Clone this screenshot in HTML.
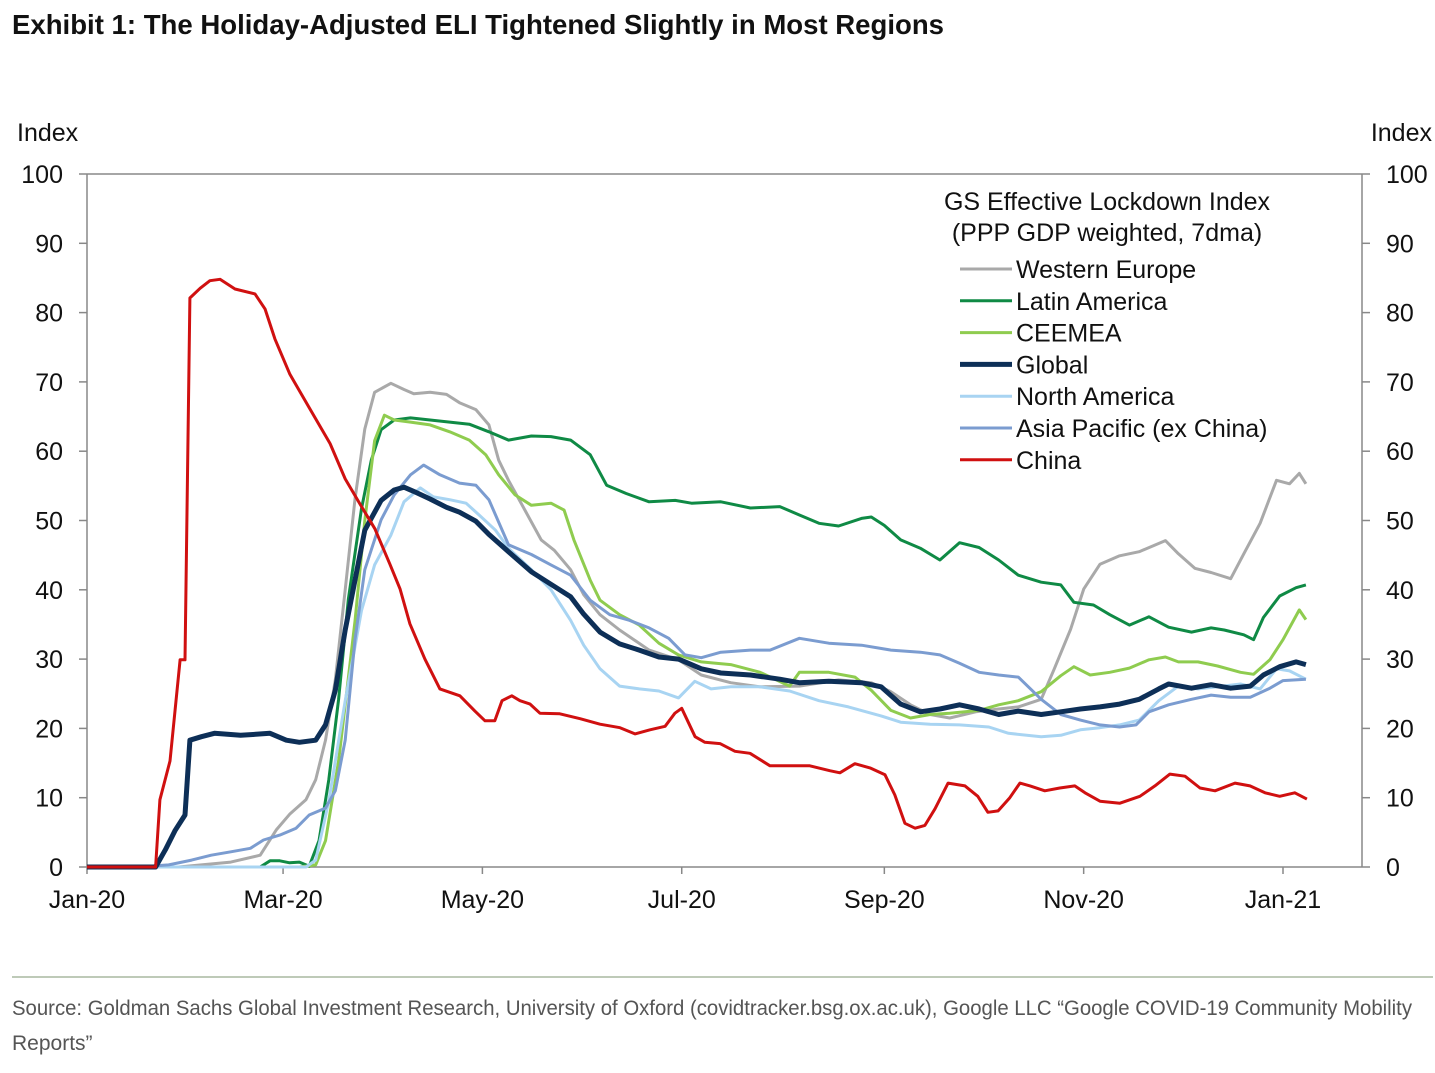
<!DOCTYPE html>
<html><head><meta charset="utf-8"><style>
body{margin:0;background:#fff;width:1435px;height:1068px;overflow:hidden;font-family:"Liberation Sans",sans-serif}
</style></head><body>
<svg id="c" width="1435" height="1068" xmlns="http://www.w3.org/2000/svg">
<text x="12" y="34" font-size="28" font-weight="bold" fill="#111" font-family="Liberation Sans Narrow,Liberation Sans,sans-serif" textLength="932" lengthAdjust="spacingAndGlyphs">Exhibit 1: The Holiday-Adjusted ELI Tightened Slightly in Most Regions</text>
<text x="17" y="141" font-size="25" fill="#111">Index</text>
<text x="1432" y="141" font-size="25" fill="#111" text-anchor="end">Index</text>
<g id="axes"></g><g id="series"></g>
<g>
<text x="1107" y="210" font-size="25" fill="#111" text-anchor="middle">GS Effective Lockdown Index</text>
<text x="1107" y="241" font-size="25" fill="#111" text-anchor="middle">(PPP GDP weighted, 7dma)</text>
<g id="leg"></g></g>
<line x1="12" y1="977" x2="1433" y2="977" stroke="#a8b8a0" stroke-width="1.5"/>
<text x="12" y="1015" font-size="21" fill="#555" font-family="Liberation Sans Narrow,Liberation Sans,sans-serif" textLength="1400" lengthAdjust="spacingAndGlyphs">Source: Goldman Sachs Global Investment Research, University of Oxford (covidtracker.bsg.ox.ac.uk), Google LLC “Google COVID-19 Community Mobility</text>
<text x="12" y="1050" font-size="21" fill="#555" font-family="Liberation Sans Narrow,Liberation Sans,sans-serif">Reports”</text>
</svg>
<script>
const yTicks=[0,10,20,30,40,50,60,70,80,90,100];
const xTickLabels=["Jan-20","Mar-20","May-20","Jul-20","Sep-20","Nov-20","Jan-21"];
const xTickDays=[0,60,121,182,244,305,366];
const weDays=[0,28,44,53,58,62,67,70,73,76,79,82,85,88,93,97,100,105,110,114,119,123,126,129,134,139,143,148,152,157,163,172,181,188,197,206,218,230,240,246,252,258,264,272,279,285,292,296,301,305,310,316,322,330,334,339,344,350,354,359,364,368,371,373];
const weVals=[0,0,0.7,1.7,5.4,7.6,9.7,12.6,18.3,27,40,53.1,63.2,68.5,69.8,68.9,68.3,68.5,68.2,67,66,63.8,58.7,55.8,51.5,47.2,45.7,42.9,39.3,36.4,34.2,31.3,29.9,27.7,26.6,26,26.1,27,26.6,25.3,23.4,22,21.5,22.4,22.8,23.1,24.2,28.6,34.3,40.1,43.7,44.9,45.5,47.1,45.2,43.1,42.5,41.6,45.2,49.6,55.8,55.3,56.8,55.3];
const laDays=[0,53,56,59,62,65,68,71,74,77,80,84,87,90,94,99,105,111,117,123,129,136,142,148,154,159,165,172,180,185,194,203,212,218,224,230,237,240,244,249,255,261,267,273,279,285,292,298,302,308,313,319,325,331,338,344,348,354,357,360,365,370,373];
const laVals=[0,0,0.9,0.9,0.6,0.7,0.1,3.8,12.6,24.2,38.7,51.7,58.7,63.1,64.5,64.8,64.5,64.2,63.9,62.8,61.6,62.2,62.1,61.6,59.5,55.1,53.9,52.7,52.9,52.5,52.7,51.8,52,50.8,49.6,49.2,50.3,50.5,49.3,47.2,46,44.3,46.8,46.1,44.3,42.1,41.1,40.7,38.2,37.8,36.4,34.9,36.1,34.6,33.9,34.5,34.2,33.5,32.8,36,39.1,40.3,40.7];
const ceDays=[0,65,70,73,77,82,85,88,91,94,99,105,111,117,122,126,131,136,142,146,149,154,157,163,169,175,181,188,197,206,215,218,227,235,240,246,252,258,264,273,279,285,292,298,302,307,313,319,325,330,334,340,346,353,357,362,366,371,373];
const ceVals=[0,0,0.3,3.8,15.3,35.5,50,61.5,65.2,64.5,64.2,63.8,62.8,61.6,59.5,56.6,53.7,52.2,52.5,51.5,47.2,41.4,38.5,36.4,34.9,32.3,30.6,29.6,29.2,28.1,26.1,28.1,28.1,27.4,25.5,22.6,21.5,22,22.2,22.6,23.4,24,25.3,27.6,28.9,27.7,28.1,28.7,29.9,30.3,29.6,29.6,29,28.1,27.8,29.9,32.8,37.1,35.7];
const naDays=[0,67,70,74,79,84,88,93,97,102,106,111,116,120,125,129,136,142,148,152,157,163,169,175,181,186,191,197,206,215,224,233,243,249,258,267,276,282,292,298,304,310,316,322,328,334,340,346,353,359,364,368,373];
const naVals=[0,0,1,9.5,24,37,43.6,47.9,52.7,54.7,53.4,53,52.5,50.8,48.6,46,42.9,40,35.6,32,28.6,26.1,25.7,25.4,24.4,26.8,25.7,26,26,25.4,24,23.1,21.8,20.9,20.6,20.5,20.2,19.3,18.8,19,19.8,20.1,20.5,21.2,24,26.1,25.7,26,26.4,25.7,28.6,28.3,27.1];
const apDays=[0,19,25,32,38,44,50,54,59,64,68,73,76,79,82,85,90,94,99,103,108,114,119,123,129,136,142,148,154,160,166,172,178,183,188,194,203,209,218,227,237,246,255,261,267,273,279,285,292,298,304,310,316,321,325,331,338,344,350,356,362,366,373];
const apVals=[0,0.1,0.3,1,1.7,2.2,2.7,3.9,4.6,5.6,7.5,8.5,11,18.3,32.8,42.9,50.1,53.7,56.6,58,56.6,55.4,55.1,53,46.5,45.1,43.6,42.1,38.5,36.4,35.6,34.5,33,30.6,30.2,31,31.3,31.3,33,32.3,32,31.3,31,30.6,29.4,28.1,27.7,27.4,24.2,22,21.2,20.5,20.2,20.5,22.4,23.4,24.2,24.8,24.5,24.5,25.8,26.9,27.1];
const glDays=[0,21,24,27,30,31.5,35,39,47,56,61,65,70,73,76,79,82,85,90,94,97,100,105,110,114,119,123,129,136,142,148,152,157,163,169,175,181,188,194,203,212,218,227,237,243,249,255,261,267,273,279,285,292,298,304,310,316,322,328,331,338,344,350,356,360,365,370,373];
const glVals=[0,0,2.5,5.3,7.5,18.3,18.8,19.3,19,19.3,18.3,18,18.3,20.5,25.5,34.2,41.4,48.6,52.9,54.4,54.8,54.2,53.1,51.9,51.2,49.9,48,45.5,42.6,40.8,39,36.5,33.9,32.2,31.3,30.3,30,28.6,28,27.7,27.1,26.6,26.8,26.6,26,23.5,22.4,22.8,23.4,22.8,22,22.5,22,22.4,22.8,23.1,23.5,24.2,25.7,26.4,25.8,26.3,25.8,26.1,27.7,28.9,29.6,29.2];
const cnDays=[0,21,22.3,25.4,28.5,30,31.5,34.6,37.6,40.7,45.3,51.4,54.5,57.5,62.1,68.2,74.4,79,83.5,88.1,92.7,95.8,98.8,103.4,108,114.1,118.7,121.8,124.8,127,130,132.5,135.6,138.6,144.7,150.9,157,163.1,167.7,172.3,176.9,179.9,182,186.1,189.1,193.7,198.3,202.9,209,215.1,221.2,227.3,230.4,235,239.6,244.2,247.2,250.3,253.4,256.4,259.5,263.5,268.7,272.6,275.7,278.8,282.4,285.5,288.6,293.1,297.7,302.3,305.4,310,316.1,322.2,326.8,331.4,336,340.6,345.2,351.3,355.9,360.5,365,369.6,373.3];
const cnVals=[0,0,9.7,15.3,29.9,29.9,82.1,83.5,84.6,84.8,83.4,82.7,80.5,76.2,71.1,66.1,61.1,56,52.4,48.8,43.7,40.1,35.1,30,25.7,24.7,22.5,21.1,21.1,24,24.7,24,23.5,22.2,22.1,21.4,20.6,20.1,19.2,19.8,20.3,22.2,22.9,18.8,18,17.8,16.7,16.4,14.6,14.6,14.6,13.9,13.6,14.9,14.3,13.3,10.4,6.3,5.6,6,8.4,12.1,11.7,10.2,7.9,8.1,10,12.1,11.7,11,11.4,11.7,10.7,9.5,9.2,10.2,11.7,13.4,13.1,11.4,11,12.1,11.7,10.7,10.2,10.7,9.8];

const X0=87,X1=1362,Y0=867,Y1=174;
const xs=d=>X0+d*(1283-87)/366;
const ys=v=>Y0-(v/100)*(Y0-Y1);
const NS="http://www.w3.org/2000/svg";
function mk(t,a,p){const e=document.createElementNS(NS,t);for(const k in a)e.setAttribute(k,a[k]);p.appendChild(e);return e;}
const ax=document.getElementById('axes');
const ac="#888";
let e=mk('line',{x1:X0,y1:Y1,x2:X1,y2:Y1,stroke:ac,'stroke-width':1.5},ax);


e=mk('line',{x1:X0,y1:Y1,x2:X0,y2:Y0,stroke:ac,'stroke-width':1.5},ax);


e=mk('line',{x1:X1,y1:Y1,x2:X1,y2:Y0,stroke:ac,'stroke-width':1.5},ax);


e=mk('line',{x1:X0,y1:Y0,x2:X1,y2:Y0,stroke:ac,'stroke-width':1.5},ax);


yTicks.forEach(v=>{
  const y=ys(v);
  mk('line',{x1:X0-8,y1:y,x2:X0,y2:y,stroke:ac,'stroke-width':1.5},ax);
  mk('line',{x1:X1,y1:y,x2:X1+8,y2:y,stroke:ac,'stroke-width':1.5},ax);
  let t=mk('text',{x:63,y:y+9,'font-size':25,'text-anchor':'end',fill:'#111'},ax);t.textContent=v;
  
  
  t=mk('text',{x:1386,y:y+9,'font-size':25,fill:'#111'},ax);t.textContent=v;
  
  
});
xTickDays.forEach((d,i)=>{
  const x=xs(d);
  mk('line',{x1:x,y1:Y0,x2:x,y2:Y0+7,stroke:ac,'stroke-width':1.5},ax);
  const t=mk('text',{x:x,y:908,'font-size':25,'text-anchor':'middle',fill:'#111'},ax);t.textContent=xTickLabels[i];
  
  
});
const series=[
 ["western-europe","Western Europe",weDays,weVals,"#a9a9a9",3],
 ["latin-america","Latin America",laDays,laVals,"#0f8a45",3],
 ["ceemea","CEEMEA",ceDays,ceVals,"#8fcc4f",3],
 ["north-america","North America",naDays,naVals,"#a8d4f2",3],
 ["asia-pacific","Asia Pacific (ex China)",apDays,apVals,"#7b9cd0",3],
 ["global","Global",glDays,glVals,"#0d2f57",5],
 ["china","China",cnDays,cnVals,"#d01010",3]];
const sg=document.getElementById('series');
series.forEach(s=>{
  const d=s[2].map((dd,i)=>(i?'L':'M')+xs(dd).toFixed(1)+','+ys(s[3][i]).toFixed(1)).join('');
  const p=mk('path',{d:d,fill:'none',stroke:s[4],'stroke-width':s[5],'stroke-linejoin':'round'},sg);
  
  
});
const order=[0,1,2,5,3,4,6];
const lg=document.getElementById('leg');
order.forEach((k,i)=>{
  const s=series[k],y=269+i*31.8;
  const g=mk('g',{},lg);
  
  
  mk('line',{x1:960,y1:y,x2:1012,y2:y,stroke:s[4],'stroke-width':s[5]},g);
  const t=mk('text',{x:1016,y:y+9,'font-size':25,fill:'#111'},g);t.textContent=s[1];
});
</script>
</body></html>
